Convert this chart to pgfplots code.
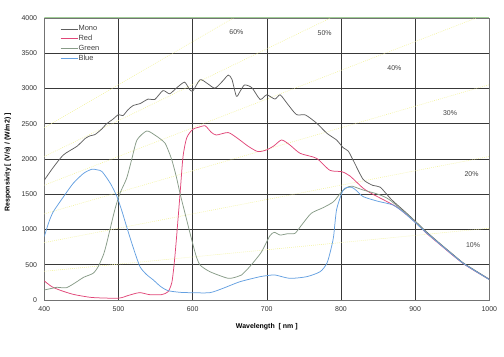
\documentclass[border=0pt]{standalone}
\usepackage{fontspec}
\setmainfont{Liberation Sans}
\usepackage{pgfplots}
\pgfplotsset{compat=1.18}
\definecolor{mono}{RGB}{95,95,95}
\definecolor{redc}{RGB}{225,70,120}
\definecolor{greenc}{RGB}{135,155,135}
\definecolor{bluec}{RGB}{100,160,225}
\definecolor{qe}{RGB}{242,242,150}
\definecolor{topg}{RGB}{160,205,150}
\begin{document}
\begin{tikzpicture}
\path (-44.3bp,-57bp) rectangle (459.7bp,300bp);
\begin{axis}[
  at={(0,0)}, anchor=south west,
  scale only axis, width=445bp, height=282bp,
  xmin=400, xmax=1000, ymin=0, ymax=4000,
  xtick={400,500,...,1000}, ytick={0,500,...,4000},
  major tick length=0pt,
  grid=major,
  major grid style={draw=black!78, line width=0.6bp},
  axis line style={draw=black!55, line width=0.6bp},
  /pgf/number format/assume math mode=true,
  /pgf/number format/set thousands separator={},
  ticklabel style={font=\fontsize{7}{8}\selectfont, text=black!80},
  yticklabel style={inner sep=0pt, xshift=-7bp},
  xticklabel style={inner sep=0pt, yshift=-6bp},
  xlabel={\textbf{Wavelength\ \ [ nm ]}},
  xlabel style={at={(axis description cs:0.5,-0.096)}, anchor=center, font=\fontsize{7}{8}\selectfont},
  ylabel={\textbf{Responsivity~[ (V/s) / (W/m2) ]}},
  ylabel style={at={(axis description cs:-0.082,0.488)}, anchor=center, rotate=0, font=\fontsize{7}{8}\selectfont},
  legend style={at={(axis description cs:0.035,0.975)}, anchor=north west, draw=none, fill=none,
    font=\fontsize{7.5}{8.5}\selectfont, row sep=1.8bp, inner sep=0pt,
    nodes={inner sep=0.6bp, text=black!75}},
  legend cell align=left,
  legend image code/.code={\draw[#1, line width=0.9bp] (0bp,0bp) -- (17bp,0bp);},
  clip=true,
]
% quantum efficiency lines
\foreach \k in {1,...,6} {
  \edef\tmp{\noexpand\addplot[qe, line width=0.55bp, dash pattern=on 0.8bp off 1.2bp, forget plot] coordinates {(400,\fpeval{407.2*\k}) (1000,\fpeval{1018*\k})};}
  \tmp
}
\addplot[mono, line width=0.75bp, smooth, tension=0.4] coordinates {
(400,1700)(412,1880)(426,2060)(444,2180)(455,2290)(462,2330)(468,2345)(477,2420)(484,2500)(492,2560)(500,2630)(506,2615)(513,2700)(520,2760)(529,2785)(540,2850)(549,2845)(560,2970)(569,2925)(578,3005)(589,3090)(595,3000)(600,2960)(610,3125)(620,3070)(630,3005)(640,3100)(648,3190)(653,3130)(659,2890)(664,2960)(670,3050)(680,3010)(691,2845)(700,2910)(711,2850)(718,2910)(728,2780)(740,2630)(752,2625)(767,2510)(781,2365)(794,2270)(803,2160)(810,2110)(818,1950)(830,1710)(843,1625)(853,1600)(868,1425)(885,1265)(900,1120)(915,970)(933,805)(950,655)(965,525)(980,425)(1000,295)};
\addlegendentry{Mono}
\addplot[redc, line width=0.75bp, smooth, tension=0.4] coordinates {
(400,270)(410,190)(421,140)(439,80)(462,38)(480,28)(498,25)(505,35)(511,57)(520,85)(529,105)(542,76)(558,76)(567,118)(572,250)(575,500)(578,850)(583,1500)(587,2030)(592,2300)(600,2420)(608,2450)(617,2470)(625,2380)(632,2340)(648,2375)(661,2290)(675,2180)(688,2105)(700,2130)(710,2190)(720,2270)(731,2200)(745,2080)(767,2010)(785,1840)(801,1820)(812,1760)(830,1585)(843,1500)(875,1320)(900,1105)(915,950)(933,790)(950,640)(965,515)(980,415)(1000,290)};
\addlegendentry{Red}
\addplot[greenc, line width=0.75bp, smooth, tension=0.4] coordinates {
(400,142)(410,165)(417,180)(430,175)(444,260)(453,322)(466,380)(473,480)(480,650)(484,800)(495,1277)(502,1513)(511,1726)(518,2000)(525,2270)(538,2397)(549,2340)(557,2280)(563,2222)(568,2100)(572,1986)(578,1749)(583,1513)(592,1135)(600,804)(605,615)(610,496)(620,420)(628,380)(648,307)(660,330)(666,355)(675,450)(684,560)(693,685)(704,908)(710,960)(718,922)(728,940)(738,946)(747,1064)(760,1230)(776,1310)(790,1395)(801,1537)(810,1607)(815,1615)(830,1560)(850,1500)(866,1418)(900,1115)(915,960)(933,800)(950,650)(965,520)(980,420)(1000,290)};
\addlegendentry{Green}
\addplot[bluec, line width=0.75bp, smooth, tension=0.4] coordinates {
(400,900)(406,1100)(412,1250)(426,1466)(439,1655)(453,1797)(464,1854)(472,1845)(478,1820)(489,1655)(498,1466)(505,1250)(511,1040)(520,740)(529,473)(538,360)(547,284)(557,190)(567,132)(583,109)(596,104)(623,104)(641,166)(664,260)(691,331)(700,345)(711,355)(731,307)(754,331)(772,402)(781,520)(786,700)(790,898)(794,1277)(801,1513)(805,1584)(814,1600)(820,1560)(830,1466)(850,1400)(870,1348)(885,1240)(900,1100)(915,955)(933,795)(950,645)(965,518)(980,418)(1000,290)};
\addlegendentry{Blue}
\draw[topg, line width=1bp] (axis cs:400,4000) -- (axis cs:1000,4000);
\begin{scope}[every node/.style={font=\fontsize{7}{8}\selectfont, text=black!75}]
\node at (axis cs:659,3806) {60\%};
\node at (axis cs:778,3783) {50\%};
\node at (axis cs:872,3295) {40\%};
\node at (axis cs:947,2648) {30\%};
\node at (axis cs:976,1787) {20\%};
\node at (axis cs:978,780) {10\%};
\end{scope}
\node[font=\bfseries\fontsize{9.5}{11}\selectfont] at (axis description cs:0.467,-0.16) {Figure 3. Spectral Response Curve for Mono and Color};
\end{axis}
\end{tikzpicture}
\end{document}
